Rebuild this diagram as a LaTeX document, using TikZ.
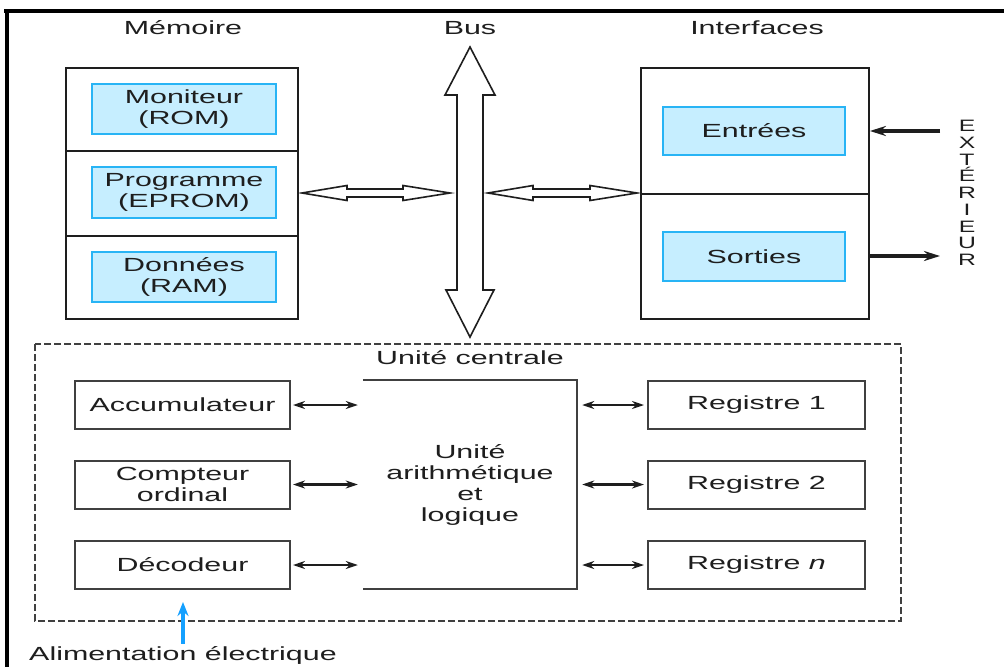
\documentclass[tikz,border=0pt]{standalone}
\usepackage{fontspec}
\setmainfont{Liberation Sans}[FakeStretch=1.6]
\newfontfamily\extfont{Liberation Sans}[FakeStretch=1.5]
\usetikzlibrary{arrows.meta}
\definecolor{ink}{RGB}{30,30,30}
\definecolor{memfill}{RGB}{198,238,255}
\definecolor{memline}{RGB}{40,180,245}
\definecolor{powblue}{RGB}{20,160,255}
\tikzset{
  txt/.style={font=\fontsize{19}{21}\selectfont, text=ink, align=center, inner sep=0pt},
  outerbox/.style={draw=ink, line width=1.8pt, inner sep=0pt},
  membox/.style={draw=memline, fill=memfill, line width=1.5pt, inner sep=0pt, font=\fontsize{19}{21}\selectfont, text=ink, align=center},
  unitbox/.style={draw=ink!85, line width=2pt, inner sep=0pt, font=\fontsize{19}{21}\selectfont, text=ink, align=center, minimum width=215pt, minimum height=48pt},
  hollow/.style={draw=ink, fill=white, line width=1.6pt, line join=miter},
  smallarrow/.style={ink, line width=2.2pt, {Stealth[length=12pt,width=8pt]}-{Stealth[length=12pt,width=8pt]}},
  extarrow/.style={ink, line width=3.6pt, -{Stealth[length=16pt,width=10pt]}},
}
\begin{document}
\begin{tikzpicture}[x=1pt,y=-1pt]
\useasboundingbox (0,0) rectangle (1004,667);
\fill[white] (0,0) rectangle (1004,667);
% frame
\draw[black, line width=4pt] (4,11) -- (1004,11);
\draw[black, line width=4pt] (7,9) -- (7,667);

% titles
\node[txt] (tmem) at (183,28) {Mémoire};
\node[txt] (tbus) at (470,28) {Bus};
\node[txt] (tifc) at (757,28) {Interfaces};

% memory
\node[outerbox, minimum width=232pt, minimum height=251pt] (mem) at (182,193.5) {};
\draw[ink, line width=1.4pt] (66,151) -- (298,151);
\draw[ink, line width=1.4pt] (66,236) -- (298,236);
\node[membox, minimum width=184pt, minimum height=50pt] (rom) at (184,109) {Moniteur\\(ROM)};
\node[membox, minimum width=184pt, minimum height=51pt] (eprom) at (184,192.5) {Programme\\(EPROM)};
\node[membox, minimum width=184pt, minimum height=50pt] (ram) at (184,277) {Données\\(RAM)};

% interfaces
\node[outerbox, minimum width=228pt, minimum height=251pt] (ifc) at (755,193.5) {};
\draw[ink, line width=1.4pt] (641,194) -- (869,194);
\node[membox, minimum width=182pt, minimum height=48pt] (in) at (754,131) {Entrées};
\node[membox, minimum width=182pt, minimum height=49pt] (out) at (754,256.5) {Sorties};

% exterior
\coordinate (extin) at (940,131);
\coordinate (extout) at (940,256);
\draw[extarrow] (extin) -- (extin -| ifc.east);
\draw[extarrow] (extout -| ifc.east) -- (extout);
\node[font=\extfont\fontsize{16.5}{16.7}\selectfont, text=ink, align=center, inner sep=0pt] (ext) at (967,193) {E\\X\\T\\É\\R\\I\\E\\U\\R};

% bus
\draw[hollow] (470,47) -- (495,95) -- (483,95) -- (483,290) -- (494,290) -- (470,337)
  -- (446,290) -- (457,290) -- (457,95) -- (445,95) -- cycle;
% horizontal hollow arrows
\draw[hollow] (302,193) -- (347,185.5) -- (347,189) -- (403,189) -- (403,185.5) -- (450,193)
  -- (403,200.5) -- (403,197) -- (347,197) -- (347,200.5) -- cycle;
\draw[hollow] (488,193) -- (533,185.5) -- (533,189) -- (590,189) -- (590,185.5) -- (637,193)
  -- (590,200.5) -- (590,197) -- (533,197) -- (533,200.5) -- cycle;

% central unit
\draw[ink!85, line width=2pt, dash pattern=on 7pt off 3pt] (35,344) rectangle (901,621);
\node[txt] (tuc) at (470,358) {Unité centrale};

\node[unitbox] (acc) at (182.5,405) {Accumulateur};
\node[unitbox] (cpt) at (182.5,484.5) {Compteur\\ordinal};
\node[unitbox] (dec) at (182.5,565) {Décodeur};

\node[unitbox, minimum width=217pt] (r1) at (756.5,405) {Registre 1};
\node[unitbox, minimum width=217pt] (r2) at (756.5,484.5) {Registre 2};
\node[unitbox, minimum width=217pt] (rn) at (756.5,565) {Registre \textit{n}};

\node[txt, minimum width=214pt, minimum height=209pt] (alu) at (470,484.5) {Unité\\arithmétique\\et\\logique};
\draw[ink!85, line width=2pt] (alu.north west) -- (alu.north east) -- (alu.south east) -- (alu.south west);

\draw[smallarrow, shorten <=2pt, shorten >=5pt] (acc.east) -- (acc.east -| alu.west);
\draw[smallarrow, shorten <=2pt, shorten >=5pt] (cpt.east) -- (cpt.east -| alu.west);
\draw[smallarrow, shorten <=2pt, shorten >=5pt] (dec.east) -- (dec.east -| alu.west);
\draw[smallarrow, shorten <=5pt, shorten >=3pt] (alu.east |- r1.west) -- (r1.west);
\draw[smallarrow, shorten <=5pt, shorten >=3pt] (alu.east |- r2.west) -- (r2.west);
\draw[smallarrow, shorten <=5pt, shorten >=3pt] (alu.east |- rn.west) -- (rn.west);

% power
\node[txt] (pow) at (183,655) {Alimentation électrique};
\draw[powblue, line width=3.2pt, -{Stealth[length=14pt,width=11pt]}] (pow.north) ++(0,-2) -- (183,602);
\end{tikzpicture}
\end{document}
